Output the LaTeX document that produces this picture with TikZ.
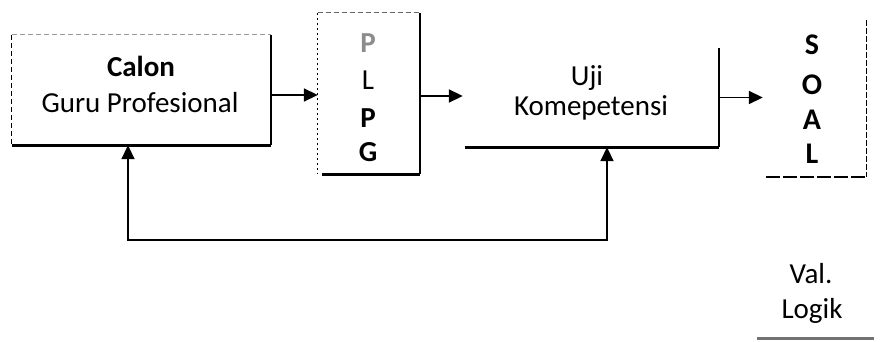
\documentclass[tikz,border=0pt]{standalone}
\usepackage{fontspec}
\setmainfont{Carlito}
\usetikzlibrary{arrows.meta}
\begin{document}
\begin{tikzpicture}[x=1pt,y=-1pt,
  txt/.style={font=\fontsize{29}{36}\selectfont, inner sep=0pt, anchor=base},
  blk/.style={draw=none, inner sep=0pt},
  arr/.style={-{Triangle[length=14pt,width=13pt]}, line width=1.8pt},
  heavy/.style={line width=3pt},
  edge/.style={line width=1.5pt},
  faint/.style={line width=1.2pt, dash pattern=on 5pt off 3pt},
]
\useasboundingbox (0,0) rectangle (890,342);
% boxes (invisible frames)
\node[blk, minimum width=259pt, minimum height=110pt] (calon) at (141.5,90) {};
\node[blk, minimum width=102pt, minimum height=161pt] (plpg) at (369,93.5) {};
\node[blk, minimum width=254pt, minimum height=99pt] (uji) at (592,97.5) {};
\node[blk, minimum width=103pt, minimum height=157pt] (soal) at (814.5,98.5) {};
% texts
\node[txt] (t1) at (141,77) {\textbf{Calon}};
\node[txt] (t2) at (140,113) {Guru Profesional};
\node[txt, text=black!45] (p1) at (368,53) {\textbf{P}};
\node[txt] (p2) at (368,90) {L};
\node[txt] (p3) at (368,127) {\textbf{P}};
\node[txt] (p4) at (368,161) {\textbf{G}};
\node[txt] (u1) at (587,85) {Uji};
\node[txt] (u2) at (591,115) {Komepetensi};
\node[txt, font=\fontsize{30}{36}\selectfont] (s1) at (812,55) {\textbf{S}};
\node[txt, font=\fontsize{30}{36}\selectfont] (s2) at (812,95) {\textbf{O}};
\node[txt, font=\fontsize{30}{36}\selectfont] (s3) at (812,129) {\textbf{A}};
\node[txt, font=\fontsize{30}{36}\selectfont] (s4) at (812,163) {\textbf{L}};
\node[txt] (v1) at (811,283) {Val.};
\node[txt] (v2) at (812,318) {Logik};
% box 1 edges
\draw[faint, black!40] (calon.north west) -- (calon.north east);
\draw[faint] (calon.north west) -- (calon.south west);
\draw[edge] (calon.north east) -- (calon.south east);
\draw[heavy] (calon.south west) -- (calon.south east);
% PLPG edges
\draw[faint, black!60] (plpg.north west) -- (plpg.north east);
\draw[line width=1.2pt, dash pattern=on 2pt off 3pt] (plpg.north west) -- (plpg.south west);
\draw[edge] (plpg.north east) -- (plpg.south east);
\draw[heavy] ([xshift=4pt]plpg.south west) -- (plpg.south east);
% Uji edges
\draw[heavy] (uji.south west) -- (uji.south east);
\draw[edge] (uji.north east) -- (uji.south east);
% SOAL edges
\draw[line width=1.3pt, dash pattern=on 6pt off 2pt] (soal.north east) -- (soal.south east);
\draw[line width=2pt, dash pattern=on 14pt off 3pt] ([xshift=3pt]soal.south west) -- (soal.south east);
% Val. Logik underline
\coordinate (g1) at (757,338);
\coordinate (g2) at (874,338);
\draw[line width=3pt, black!55] (g1) -- (g2);
% connectors
\coordinate (a1) at ([yshift=-5pt]calon.east);
\draw[arr] (a1) -- (a1 -| plpg.west);
\coordinate (a2) at ([yshift=-2.5pt]plpg.east);
\draw[arr] (a2) -- ([xshift=-2pt]a2 -| uji.west);
\draw[arr] (uji.east) -- (uji.east -| soal.west);
\coordinate (f1) at ([xshift=-13.5pt]calon.south);
\coordinate (f2) at ([xshift=15pt]uji.south);
\draw[{Triangle[length=14pt,width=13pt]}-{Triangle[length=14pt,width=13pt]}, line width=1.8pt]
  (f1) -- ++(0,95) -| (f2);
\end{tikzpicture}
\end{document}
